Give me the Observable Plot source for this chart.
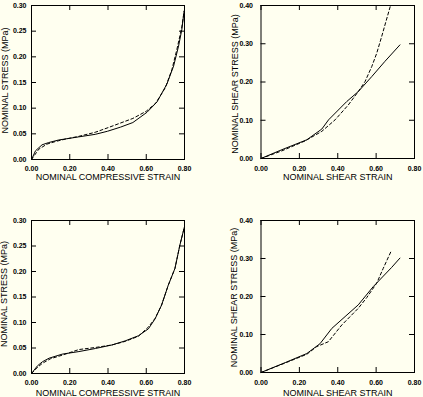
<!DOCTYPE html>
<html><head><meta charset="utf-8">
<script src="https://cdn.jsdelivr.net/npm/d3@7"></script>
<script src="https://cdn.jsdelivr.net/npm/@observablehq/plot@0.6"></script>
<style>
body{margin:0;background:#fffff0}
#chart{position:relative;width:423px;height:397px;background:#fffff0}
#chart svg{position:absolute;left:0;top:0}
</style>
</head><body><div id="chart"></div>
<script>
// ---- tick labels ----
const strainTicks = [0, 0.2, 0.4, 0.6, 0.8];
const compStressTicks = [0, 0.05, 0.10, 0.15, 0.20, 0.25, 0.30];
const shearStressTicks = [0, 0.10, 0.20, 0.30, 0.40];

// ---- axis titles ----
const compXLabel = "NOMINAL COMPRESSIVE STRAIN";
const compYLabel = "NOMINAL STRESS (MPa)";
const shearXLabel = "NOMINAL SHEAR STRAIN";
const shearYLabel = "NOMINAL SHEAR STRESS (MPa)";

// ---- top-left: compression ----
const tlSolidX = [0, 0.021, 0.055, 0.09, 0.142, 0.246, 0.333, 0.397, 0.465, 0.53, 0.604, 0.656, 0.708, 0.743, 0.769, 0.786, 0.798];
const tlSolidY = [0, 0.017, 0.0286, 0.033, 0.038, 0.044, 0.049, 0.055, 0.063, 0.072, 0.092, 0.112, 0.147, 0.182, 0.221, 0.253, 0.289];
const tlDashX = [0, 0.038, 0.081, 0.125, 0.18, 0.246, 0.333, 0.40, 0.465, 0.53, 0.60, 0.65, 0.70, 0.734, 0.76, 0.786, 0.798];
const tlDashY = [0, 0.020, 0.030, 0.035, 0.040, 0.045, 0.053, 0.062, 0.071, 0.080, 0.094, 0.110, 0.140, 0.175, 0.214, 0.258, 0.289];

// ---- top-right: shear ----
const trSolidX = [0, 0.109, 0.239, 0.317, 0.352, 0.447, 0.507, 0.577, 0.646, 0.724];
const trSolidY = [0, 0.023, 0.049, 0.077, 0.101, 0.149, 0.175, 0.214, 0.254, 0.297];
const trDashX = [0, 0.109, 0.23, 0.317, 0.386, 0.455, 0.507, 0.542, 0.577, 0.603, 0.629, 0.646, 0.675];
const trDashY = [0, 0.020, 0.046, 0.071, 0.101, 0.140, 0.175, 0.201, 0.24, 0.275, 0.319, 0.349, 0.40];

// ---- bottom-left: compression ----
const blSolidX = [0, 0.031, 0.057, 0.092, 0.161, 0.248, 0.334, 0.421, 0.49, 0.559, 0.611, 0.646, 0.68, 0.715, 0.75, 0.776, 0.8];
const blSolidY = [0, 0.015, 0.023, 0.030, 0.038, 0.043, 0.049, 0.056, 0.064, 0.074, 0.0875, 0.107, 0.134, 0.173, 0.206, 0.252, 0.288];
const blDashX = [0, 0.031, 0.057, 0.1, 0.161, 0.248, 0.334, 0.421, 0.49, 0.559, 0.611, 0.646, 0.68, 0.715, 0.75, 0.776, 0.8];
const blDashY = [0, 0.012, 0.020, 0.029, 0.036, 0.047, 0.051, 0.056, 0.063, 0.073, 0.091, 0.108, 0.134, 0.173, 0.206, 0.252, 0.288];

// ---- bottom-right: shear ----
const brSolidX = [0, 0.126, 0.239, 0.308, 0.369, 0.438, 0.507, 0.585, 0.68, 0.724];
const brSolidY = [0, 0.026, 0.050, 0.076, 0.116, 0.147, 0.178, 0.226, 0.276, 0.301];
const brDashX = [0, 0.126, 0.239, 0.29, 0.351, 0.421, 0.507, 0.551, 0.603, 0.637, 0.677];
const brDashY = [0, 0.025, 0.048, 0.068, 0.081, 0.125, 0.169, 0.197, 0.235, 0.274, 0.318];

const W = 423, H = 397;
const pts = (xs, ys) => xs.map((x, i) => ({x, y: ys[i]}));

function panel(o) {
  const [l, t, r, b] = o.frame;
  const fw = r - l, fh = b - t, tk = 5;
  const svg = Plot.plot({
    width: W, height: H,
    marginLeft: l, marginTop: t, marginRight: W - r, marginBottom: H - b,
    x: {domain: [0, 0.8]},
    y: {domain: o.yDomain},
    style: {background: "transparent", fontFamily: "'Liberation Sans', Arial, sans-serif", color: "black"},
    marks: [
      Plot.line(pts(o.sx, o.sy), {x: "x", y: "y", stroke: "black", strokeWidth: 1}),
      Plot.line(pts(o.dx, o.dy), {x: "x", y: "y", stroke: "black", strokeWidth: 1, strokeDasharray: "3,2.5", clip: true}),
      Plot.tickX(strainTicks, {x: d => d, insetTop: fh - tk, stroke: "black"}),
      Plot.tickX(strainTicks, {x: d => d, insetBottom: fh - tk, stroke: "black"}),
      Plot.tickY(o.yTicks, {y: d => d, insetRight: fw - tk, stroke: "black"}),
      Plot.tickY(o.yTicks, {y: d => d, insetLeft: fw - tk, stroke: "black"}),
      Plot.frame({stroke: "black", strokeWidth: 1}),
      Plot.axisX(strainTicks, {tickSize: 0, tickPadding: o.xPad, tickFormat: d3.format(".2f"), fontSize: 7, fontWeight: "bold", label: null}),
      Plot.axisY(o.yTicks, {tickSize: 0, tickPadding: o.yPad, tickFormat: d3.format(".2f"), fontSize: 7, fontWeight: "bold", label: null}),
      Plot.text([o.xLabel], {text: d => d, frameAnchor: "bottom", dy: o.xLabDy, fontSize: 9, lineAnchor: "middle", ariaLabel: "xlab"}),
      Plot.text([o.yLabel], {text: d => d, frameAnchor: "left", dx: o.yLabDx, dy: o.yLabShift, rotate: -90, fontSize: 9, textAnchor: "middle", lineAnchor: "middle", ariaLabel: "ylab"})
    ]
  });
  svg.querySelectorAll('g[aria-label="xlab"] text').forEach(e => { e.setAttribute("textLength", o.xLen); e.setAttribute("lengthAdjust", "spacingAndGlyphs"); });
  svg.querySelectorAll('g[aria-label="ylab"] text').forEach(e => { e.setAttribute("textLength", o.yLen); e.setAttribute("lengthAdjust", "spacingAndGlyphs"); });
  document.getElementById("chart").appendChild(svg);
}

panel({frame: [31, 5, 184, 159], yDomain: [0, 0.30], yTicks: compStressTicks,
  sx: tlSolidX, sy: tlSolidY, dx: tlDashX, dy: tlDashY,
  xLabel: compXLabel, yLabel: compYLabel, xPad: 7, yPad: 5, xLabDy: 17.5, yLabDx: -26, yLabShift: -2, xLen: 129, yLen: 101});
panel({frame: [260.5, 5, 414, 158], yDomain: [0, 0.40], yTicks: shearStressTicks,
  sx: trSolidX, sy: trSolidY, dx: trDashX, dy: trDashY,
  xLabel: shearXLabel, yLabel: shearYLabel, xPad: 8, yPad: 8, xLabDy: 18.5, yLabDx: -26, yLabShift: 2, xLen: 97, yLen: 126});
panel({frame: [31, 220, 184, 373], yDomain: [0, 0.30], yTicks: compStressTicks,
  sx: blSolidX, sy: blSolidY, dx: blDashX, dy: blDashY,
  xLabel: compXLabel, yLabel: compYLabel, xPad: 7, yPad: 5, xLabDy: 19.5, yLabDx: -27, yLabShift: -3, xLen: 130, yLen: 101});
panel({frame: [260.5, 220, 414, 372], yDomain: [0, 0.40], yTicks: shearStressTicks,
  sx: brSolidX, sy: brSolidY, dx: brDashX, dy: brDashY,
  xLabel: shearXLabel, yLabel: shearYLabel, xPad: 8, yPad: 8, xLabDy: 20.5, yLabDx: -26.5, yLabShift: 1, xLen: 97, yLen: 128});
</script></body></html>
